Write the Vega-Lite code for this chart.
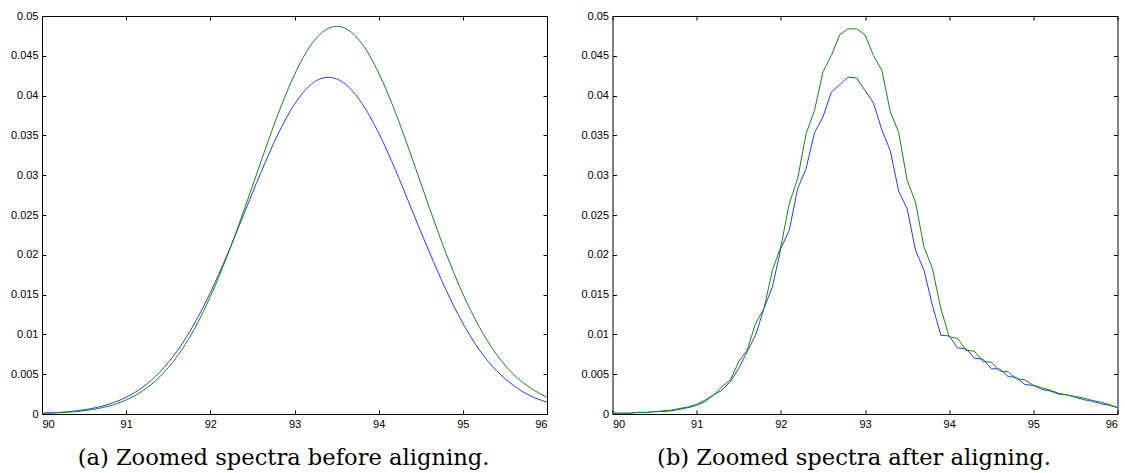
{
  "$schema": "https://vega.github.io/schema/vega-lite/v6.json",
  "background": "white",
  "padding": {"left": 10, "top": 10, "right": 6, "bottom": 0},
  "config": {
    "view": {"stroke": null},
    "axis": {"grid": false, "domainColor": "#000", "domainWidth": 1, "tickColor": "#000", "tickWidth": 1, "labelColor": "#000", "labelFont": "Liberation Sans", "labelFontSize": 11, "title": null, "tickSize": -4, "labelPadding": 8},
    "title": {"font": "DejaVu Serif", "fontSize": 22.6, "fontWeight": "normal", "color": "#000", "orient": "bottom", "anchor": "middle", "offset": 18, "dx": -11},
    "concat": {"spacing": 31.5}
  },
  "datasets": {
    "a": [
      {"s": "spectrum 1", "x": 90.0, "v": 0.00010},
      {"s": "spectrum 1", "x": 90.2, "v": 0.00020},
      {"s": "spectrum 1", "x": 90.4, "v": 0.00039},
      {"s": "spectrum 1", "x": 90.6, "v": 0.00071},
      {"s": "spectrum 1", "x": 90.8, "v": 0.00125},
      {"s": "spectrum 1", "x": 91.0, "v": 0.00211},
      {"s": "spectrum 1", "x": 91.2, "v": 0.00340},
      {"s": "spectrum 1", "x": 91.4, "v": 0.00527},
      {"s": "spectrum 1", "x": 91.6, "v": 0.00783},
      {"s": "spectrum 1", "x": 91.8, "v": 0.01116},
      {"s": "spectrum 1", "x": 92.0, "v": 0.01525},
      {"s": "spectrum 1", "x": 92.2, "v": 0.01999},
      {"s": "spectrum 1", "x": 92.4, "v": 0.02514},
      {"s": "spectrum 1", "x": 92.6, "v": 0.03032},
      {"s": "spectrum 1", "x": 92.8, "v": 0.03507},
      {"s": "spectrum 1", "x": 93.0, "v": 0.03892},
      {"s": "spectrum 1", "x": 93.2, "v": 0.04143},
      {"s": "spectrum 1", "x": 93.4, "v": 0.04230},
      {"s": "spectrum 1", "x": 93.6, "v": 0.04148},
      {"s": "spectrum 1", "x": 93.8, "v": 0.03905},
      {"s": "spectrum 1", "x": 94.0, "v": 0.03530},
      {"s": "spectrum 1", "x": 94.2, "v": 0.03065},
      {"s": "spectrum 1", "x": 94.4, "v": 0.02550},
      {"s": "spectrum 1", "x": 94.6, "v": 0.02040},
      {"s": "spectrum 1", "x": 94.8, "v": 0.01560},
      {"s": "spectrum 1", "x": 95.0, "v": 0.01140},
      {"s": "spectrum 1", "x": 95.2, "v": 0.00800},
      {"s": "spectrum 1", "x": 95.4, "v": 0.00545},
      {"s": "spectrum 1", "x": 95.6, "v": 0.00360},
      {"s": "spectrum 1", "x": 95.8, "v": 0.00230},
      {"s": "spectrum 1", "x": 96.0, "v": 0.00150},
      {"s": "spectrum 2", "x": 90.0, "v": 0.00007},
      {"s": "spectrum 2", "x": 90.2, "v": 0.00015},
      {"s": "spectrum 2", "x": 90.4, "v": 0.00030},
      {"s": "spectrum 2", "x": 90.6, "v": 0.00056},
      {"s": "spectrum 2", "x": 90.8, "v": 0.00101},
      {"s": "spectrum 2", "x": 91.0, "v": 0.00176},
      {"s": "spectrum 2", "x": 91.2, "v": 0.00293},
      {"s": "spectrum 2", "x": 91.4, "v": 0.00468},
      {"s": "spectrum 2", "x": 91.6, "v": 0.00715},
      {"s": "spectrum 2", "x": 91.8, "v": 0.01049},
      {"s": "spectrum 2", "x": 92.0, "v": 0.01474},
      {"s": "spectrum 2", "x": 92.2, "v": 0.01984},
      {"s": "spectrum 2", "x": 92.4, "v": 0.02561},
      {"s": "spectrum 2", "x": 92.6, "v": 0.03166},
      {"s": "spectrum 2", "x": 92.8, "v": 0.03754},
      {"s": "spectrum 2", "x": 93.0, "v": 0.04264},
      {"s": "spectrum 2", "x": 93.2, "v": 0.04643},
      {"s": "spectrum 2", "x": 93.4, "v": 0.04844},
      {"s": "spectrum 2", "x": 93.5, "v": 0.04870},
      {"s": "spectrum 2", "x": 93.6, "v": 0.04846},
      {"s": "spectrum 2", "x": 93.8, "v": 0.04655},
      {"s": "spectrum 2", "x": 94.0, "v": 0.04285},
      {"s": "spectrum 2", "x": 94.2, "v": 0.03785},
      {"s": "spectrum 2", "x": 94.4, "v": 0.03205},
      {"s": "spectrum 2", "x": 94.6, "v": 0.02600},
      {"s": "spectrum 2", "x": 94.8, "v": 0.02020},
      {"s": "spectrum 2", "x": 95.0, "v": 0.01510},
      {"s": "spectrum 2", "x": 95.2, "v": 0.01085},
      {"s": "spectrum 2", "x": 95.4, "v": 0.00750},
      {"s": "spectrum 2", "x": 95.6, "v": 0.00500},
      {"s": "spectrum 2", "x": 95.8, "v": 0.00330},
      {"s": "spectrum 2", "x": 96.0, "v": 0.00210}
    ],
    "b": [
      {"s": "spectrum 1", "x": 90.0, "v": 0.0001},
      {"s": "spectrum 1", "x": 90.1, "v": 0.0001},
      {"s": "spectrum 1", "x": 90.2, "v": 0.0001},
      {"s": "spectrum 1", "x": 90.3, "v": 0.0002},
      {"s": "spectrum 1", "x": 90.4, "v": 0.0002},
      {"s": "spectrum 1", "x": 90.5, "v": 0.0003},
      {"s": "spectrum 1", "x": 90.6, "v": 0.0003},
      {"s": "spectrum 1", "x": 90.7, "v": 0.0004},
      {"s": "spectrum 1", "x": 90.8, "v": 0.0006},
      {"s": "spectrum 1", "x": 90.9, "v": 0.0008},
      {"s": "spectrum 1", "x": 91.0, "v": 0.0011},
      {"s": "spectrum 1", "x": 91.1, "v": 0.00155},
      {"s": "spectrum 1", "x": 91.2, "v": 0.00238},
      {"s": "spectrum 1", "x": 91.3, "v": 0.00301},
      {"s": "spectrum 1", "x": 91.4, "v": 0.00405},
      {"s": "spectrum 1", "x": 91.5, "v": 0.00573},
      {"s": "spectrum 1", "x": 91.6, "v": 0.00782},
      {"s": "spectrum 1", "x": 91.7, "v": 0.00991},
      {"s": "spectrum 1", "x": 91.8, "v": 0.01326},
      {"s": "spectrum 1", "x": 91.9, "v": 0.01598},
      {"s": "spectrum 1", "x": 92.0, "v": 0.02079},
      {"s": "spectrum 1", "x": 92.1, "v": 0.02309},
      {"s": "spectrum 1", "x": 92.2, "v": 0.02832},
      {"s": "spectrum 1", "x": 92.3, "v": 0.03083},
      {"s": "spectrum 1", "x": 92.4, "v": 0.03534},
      {"s": "spectrum 1", "x": 92.5, "v": 0.0373},
      {"s": "spectrum 1", "x": 92.6, "v": 0.04044},
      {"s": "spectrum 1", "x": 92.7, "v": 0.04137},
      {"s": "spectrum 1", "x": 92.8, "v": 0.04233},
      {"s": "spectrum 1", "x": 92.9, "v": 0.0422},
      {"s": "spectrum 1", "x": 93.0, "v": 0.04065},
      {"s": "spectrum 1", "x": 93.1, "v": 0.0391},
      {"s": "spectrum 1", "x": 93.2, "v": 0.0357},
      {"s": "spectrum 1", "x": 93.3, "v": 0.0331},
      {"s": "spectrum 1", "x": 93.4, "v": 0.0280},
      {"s": "spectrum 1", "x": 93.5, "v": 0.0258},
      {"s": "spectrum 1", "x": 93.6, "v": 0.0206},
      {"s": "spectrum 1", "x": 93.7, "v": 0.0181},
      {"s": "spectrum 1", "x": 93.8, "v": 0.0137},
      {"s": "spectrum 1", "x": 93.9, "v": 0.0099},
      {"s": "spectrum 1", "x": 94.0, "v": 0.0098},
      {"s": "spectrum 1", "x": 94.1, "v": 0.0083},
      {"s": "spectrum 1", "x": 94.2, "v": 0.0082},
      {"s": "spectrum 1", "x": 94.3, "v": 0.0070},
      {"s": "spectrum 1", "x": 94.4, "v": 0.0069},
      {"s": "spectrum 1", "x": 94.5, "v": 0.0057},
      {"s": "spectrum 1", "x": 94.6, "v": 0.00565},
      {"s": "spectrum 1", "x": 94.7, "v": 0.0047},
      {"s": "spectrum 1", "x": 94.8, "v": 0.0046},
      {"s": "spectrum 1", "x": 94.9, "v": 0.0037},
      {"s": "spectrum 1", "x": 95.0, "v": 0.0036},
      {"s": "spectrum 1", "x": 95.1, "v": 0.0031},
      {"s": "spectrum 1", "x": 95.2, "v": 0.0029},
      {"s": "spectrum 1", "x": 95.3, "v": 0.0025},
      {"s": "spectrum 1", "x": 95.4, "v": 0.0024},
      {"s": "spectrum 1", "x": 95.5, "v": 0.0021},
      {"s": "spectrum 1", "x": 95.6, "v": 0.0018},
      {"s": "spectrum 1", "x": 95.7, "v": 0.0016},
      {"s": "spectrum 1", "x": 95.8, "v": 0.0013},
      {"s": "spectrum 1", "x": 95.9, "v": 0.0011},
      {"s": "spectrum 1", "x": 96.0, "v": 0.0008},
      {"s": "spectrum 2", "x": 90.0, "v": 0.0001},
      {"s": "spectrum 2", "x": 90.1, "v": 0.0001},
      {"s": "spectrum 2", "x": 90.2, "v": 0.0001},
      {"s": "spectrum 2", "x": 90.3, "v": 0.0002},
      {"s": "spectrum 2", "x": 90.4, "v": 0.0002},
      {"s": "spectrum 2", "x": 90.5, "v": 0.0003},
      {"s": "spectrum 2", "x": 90.6, "v": 0.0004},
      {"s": "spectrum 2", "x": 90.7, "v": 0.0005},
      {"s": "spectrum 2", "x": 90.8, "v": 0.0007},
      {"s": "spectrum 2", "x": 90.9, "v": 0.0009},
      {"s": "spectrum 2", "x": 91.0, "v": 0.0012},
      {"s": "spectrum 2", "x": 91.1, "v": 0.00176},
      {"s": "spectrum 2", "x": 91.2, "v": 0.00238},
      {"s": "spectrum 2", "x": 91.3, "v": 0.00343},
      {"s": "spectrum 2", "x": 91.4, "v": 0.00427},
      {"s": "spectrum 2", "x": 91.5, "v": 0.00657},
      {"s": "spectrum 2", "x": 91.6, "v": 0.00803},
      {"s": "spectrum 2", "x": 91.7, "v": 0.01138},
      {"s": "spectrum 2", "x": 91.8, "v": 0.01326},
      {"s": "spectrum 2", "x": 91.9, "v": 0.01807},
      {"s": "spectrum 2", "x": 92.0, "v": 0.0210},
      {"s": "spectrum 2", "x": 92.1, "v": 0.02643},
      {"s": "spectrum 2", "x": 92.2, "v": 0.02957},
      {"s": "spectrum 2", "x": 92.3, "v": 0.03522},
      {"s": "spectrum 2", "x": 92.4, "v": 0.03814},
      {"s": "spectrum 2", "x": 92.5, "v": 0.04295},
      {"s": "spectrum 2", "x": 92.6, "v": 0.04504},
      {"s": "spectrum 2", "x": 92.7, "v": 0.04764},
      {"s": "spectrum 2", "x": 92.8, "v": 0.04839},
      {"s": "spectrum 2", "x": 92.9, "v": 0.04839},
      {"s": "spectrum 2", "x": 93.0, "v": 0.04764},
      {"s": "spectrum 2", "x": 93.1, "v": 0.04504},
      {"s": "spectrum 2", "x": 93.2, "v": 0.0432},
      {"s": "spectrum 2", "x": 93.3, "v": 0.0380},
      {"s": "spectrum 2", "x": 93.4, "v": 0.0354},
      {"s": "spectrum 2", "x": 93.5, "v": 0.0294},
      {"s": "spectrum 2", "x": 93.6, "v": 0.0266},
      {"s": "spectrum 2", "x": 93.7, "v": 0.0210},
      {"s": "spectrum 2", "x": 93.8, "v": 0.0183},
      {"s": "spectrum 2", "x": 93.9, "v": 0.0133},
      {"s": "spectrum 2", "x": 94.0, "v": 0.0097},
      {"s": "spectrum 2", "x": 94.1, "v": 0.0095},
      {"s": "spectrum 2", "x": 94.2, "v": 0.0080},
      {"s": "spectrum 2", "x": 94.3, "v": 0.0079},
      {"s": "spectrum 2", "x": 94.4, "v": 0.0066},
      {"s": "spectrum 2", "x": 94.5, "v": 0.0065},
      {"s": "spectrum 2", "x": 94.6, "v": 0.0054},
      {"s": "spectrum 2", "x": 94.7, "v": 0.0053},
      {"s": "spectrum 2", "x": 94.8, "v": 0.0044},
      {"s": "spectrum 2", "x": 94.9, "v": 0.0043},
      {"s": "spectrum 2", "x": 95.0, "v": 0.0036},
      {"s": "spectrum 2", "x": 95.1, "v": 0.0033},
      {"s": "spectrum 2", "x": 95.2, "v": 0.0030},
      {"s": "spectrum 2", "x": 95.3, "v": 0.0026},
      {"s": "spectrum 2", "x": 95.4, "v": 0.0024},
      {"s": "spectrum 2", "x": 95.5, "v": 0.0022},
      {"s": "spectrum 2", "x": 95.6, "v": 0.0020},
      {"s": "spectrum 2", "x": 95.7, "v": 0.0017},
      {"s": "spectrum 2", "x": 95.8, "v": 0.0015},
      {"s": "spectrum 2", "x": 95.9, "v": 0.0012},
      {"s": "spectrum 2", "x": 96.0, "v": 0.0008}
    ]
  },
  "hconcat": [
    {
      "width": 505, "height": 398,
      "data": {"name": "a"},
      "title": {"text": "(a) Zoomed spectra before aligning."},
      "layer": [
        {
          "mark": {"type": "line", "strokeWidth": 1, "interpolate": "monotone"},
          "encoding": {
            "x": {"field": "x", "type": "quantitative", "scale": {"domain": [90, 96], "nice": false, "zero": false}, "axis": {"orient": "bottom", "values": [90, 91, 92, 93, 94, 95, 96], "format": "d"}},
            "y": {"field": "v", "type": "quantitative", "scale": {"domain": [0, 0.05], "nice": false}, "axis": {"orient": "left", "values": [0, 0.005, 0.01, 0.015, 0.02, 0.025, 0.03, 0.035, 0.04, 0.045, 0.05], "format": "~g"}},
            "color": {"field": "s", "type": "nominal", "scale": {"domain": ["spectrum 1", "spectrum 2"], "range": ["#2040ff", "#108a10"]}, "legend": null}
          }
        },
        {
          "mark": {"type": "line", "strokeOpacity": 0},
          "encoding": {
            "x": {"field": "x", "type": "quantitative", "axis": {"orient": "top", "values": [90, 91, 92, 93, 94, 95, 96], "labels": false}},
            "y": {"field": "v", "type": "quantitative", "axis": {"orient": "right", "values": [0, 0.005, 0.01, 0.015, 0.02, 0.025, 0.03, 0.035, 0.04, 0.045, 0.05], "labels": false}},
            "detail": {"field": "s"}
          }
        }
      ],
      "resolve": {"axis": {"x": "independent", "y": "independent"}}
    },
    {
      "width": 505, "height": 398,
      "data": {"name": "b"},
      "title": {"text": "(b) Zoomed spectra after aligning."},
      "layer": [
        {
          "mark": {"type": "line", "strokeWidth": 1, "interpolate": "linear"},
          "encoding": {
            "x": {"field": "x", "type": "quantitative", "scale": {"domain": [90, 96], "nice": false, "zero": false}, "axis": {"orient": "bottom", "values": [90, 91, 92, 93, 94, 95, 96], "format": "d"}},
            "y": {"field": "v", "type": "quantitative", "scale": {"domain": [0, 0.05], "nice": false}, "axis": {"orient": "left", "values": [0, 0.005, 0.01, 0.015, 0.02, 0.025, 0.03, 0.035, 0.04, 0.045, 0.05], "format": "~g"}},
            "color": {"field": "s", "type": "nominal", "scale": {"domain": ["spectrum 1", "spectrum 2"], "range": ["#2040ff", "#108a10"]}, "legend": null}
          }
        },
        {
          "mark": {"type": "line", "strokeOpacity": 0},
          "encoding": {
            "x": {"field": "x", "type": "quantitative", "axis": {"orient": "top", "values": [90, 91, 92, 93, 94, 95, 96], "labels": false}},
            "y": {"field": "v", "type": "quantitative", "axis": {"orient": "right", "values": [0, 0.005, 0.01, 0.015, 0.02, 0.025, 0.03, 0.035, 0.04, 0.045, 0.05], "labels": false}},
            "detail": {"field": "s"}
          }
        }
      ],
      "resolve": {"axis": {"x": "independent", "y": "independent"}}
    }
  ]
}
